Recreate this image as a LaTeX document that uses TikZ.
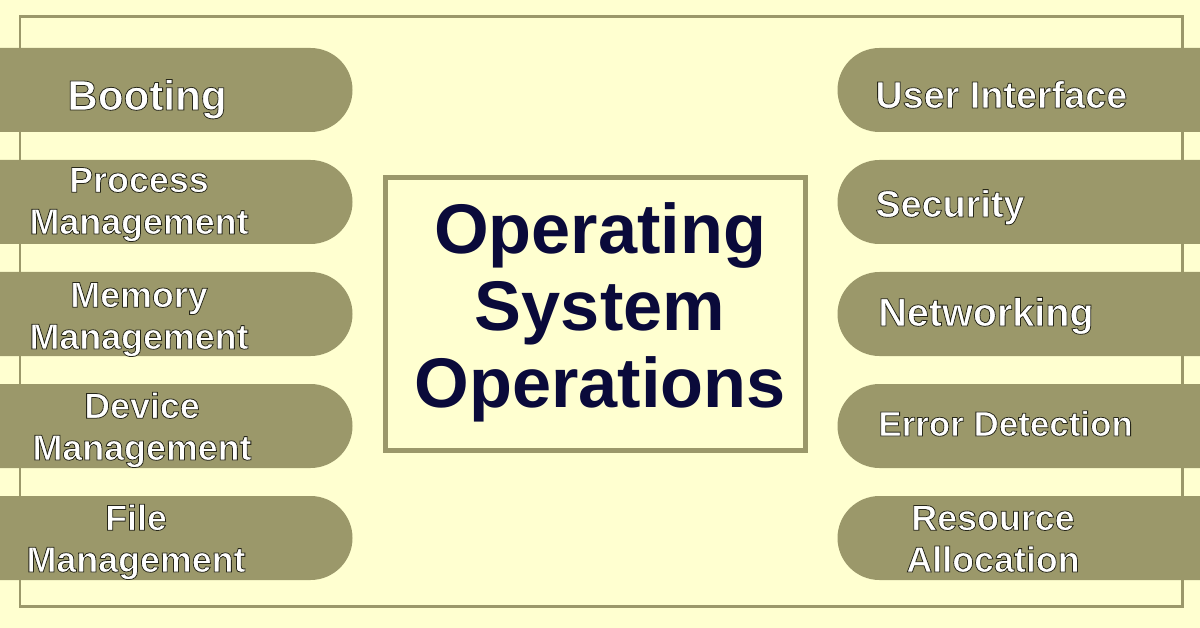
\documentclass[tikz,border=0pt]{standalone}
\usepackage{fontspec}
\setmainfont{Liberation Sans}

\definecolor{bgyellow}{RGB}{255,255,208}
\definecolor{oliveband}{RGB}{155,152,106}
\definecolor{navytext}{RGB}{10,10,58}

% white letters with a thin dark rim
\newcommand{\rimtext}[1]{\special{pdf:literal direct 0.15 0.15 0.1 RG 0.45 w 2 Tr}#1\special{pdf:literal direct 0 Tr}}

\tikzset{
    pill/.style={fill=oliveband, rounded corners=0.84cm},
    pilltext/.style={text=white, inner sep=0pt, align=center,
        font=\bfseries\fontsize{20.4}{23.8}\selectfont},
    pillsize/.style={font=\bfseries\fontsize{#1}{23.8}\selectfont},
}

\begin{document}
\begin{tikzpicture}[x=0.02cm, y=-0.02cm]
        \fill[bgyellow] (0,0) rectangle (1200,628);
        \useasboundingbox (0,0) rectangle (1200,628);
        \draw[oliveband, line width=0.06cm] (20,16.5) rectangle (1182.5,606.5);
        % bands on both sides
        \foreach \y in {48,160,272,384,496}
        {
            \fill[pill] (-60,\y) rectangle (352.5,{\y+84});
            \fill[pill] (837.5,\y) rectangle (1260,{\y+84});
        }
        % left column (base = last line)
        \node[pilltext, anchor=base, pillsize=24] (boot) at (147,110) {\rimtext{Booting}};
        \node[pilltext, anchor=base] (proc) at (139,234) {\rimtext{Process\\Management}};
        \node[pilltext, anchor=base] (mem) at (139,349) {\rimtext{Memory\\Management}};
        \node[pilltext, anchor=base] (dev) at (142,460) {\rimtext{Device\\Management}};
        \node[pilltext, anchor=base] (file) at (136,572) {\rimtext{File\\Management}};
        % right column
        \node[pilltext, anchor=base west, pillsize=21.5] (ui) at (875,108) {\rimtext{User Interface}};
        \node[pilltext, anchor=base west, pillsize=21.5] (sec) at (875,217) {\rimtext{Security}};
        \node[pilltext, anchor=base west, pillsize=22.5] (net) at (878,326) {\rimtext{Networking}};
        \node[pilltext, anchor=base west, pillsize=19.9] (err) at (878,436) {\rimtext{Error Detection}};
        \node[pilltext, anchor=base] (res) at (993,572) {\rimtext{Resource\\Allocation}};
        % middle box
        \draw[oliveband, line width=0.1cm] (385.5,177.5) rectangle (805.5,450.5);
        \node[anchor=base, align=center, text=navytext, inner sep=0pt,
            font=\bfseries\fontsize{40}{43.7}\selectfont] (title) at (600,407) {Operating\\System\\Operations};
\end{tikzpicture}
\end{document}
